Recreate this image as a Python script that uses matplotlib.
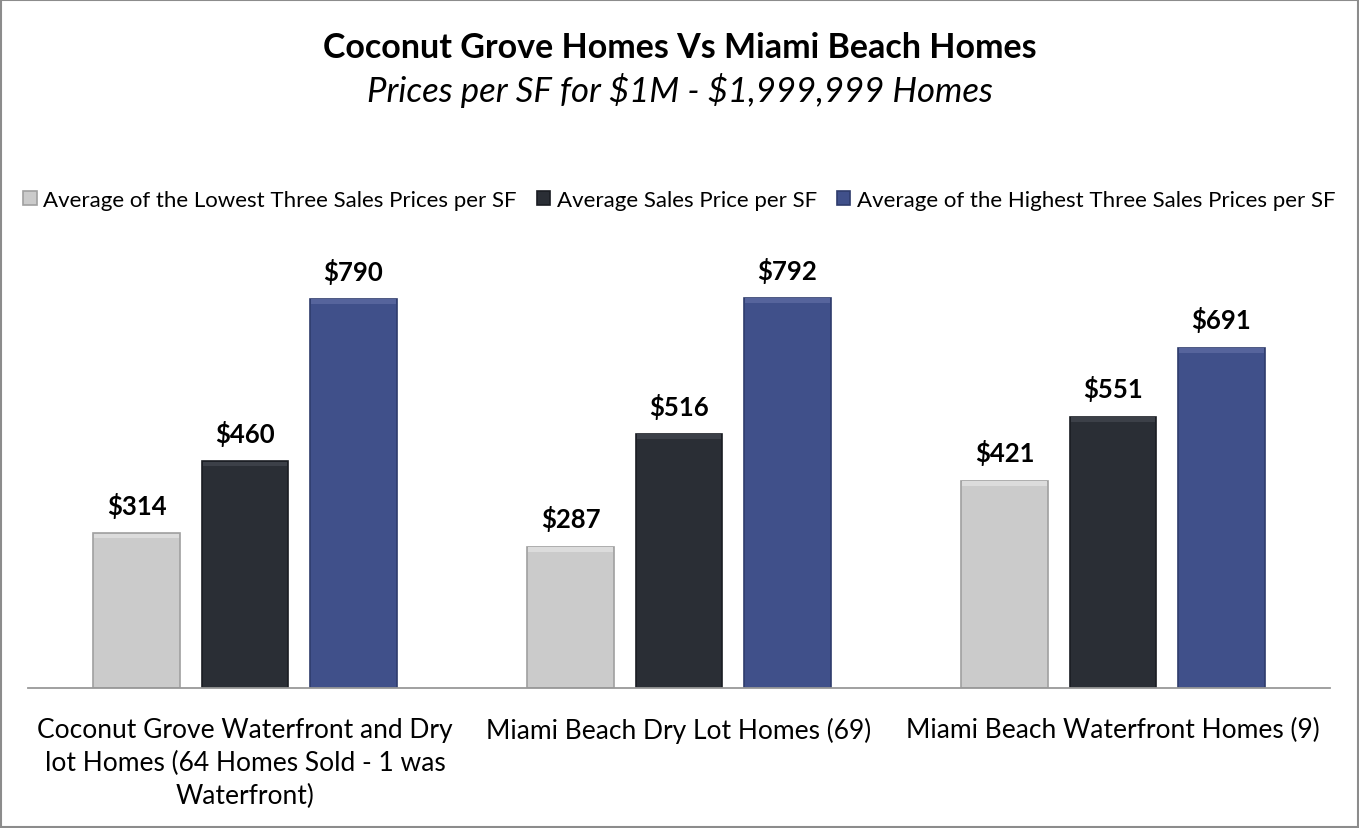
import numpy as np
import matplotlib.pyplot as plt
from matplotlib.patches import Rectangle

plt.rcParams['font.family'] = ['Lato', 'DejaVu Sans']

categories = ['Coconut Grove Waterfront and Dry\nlot Homes (64 Homes Sold - 1 was\nWaterfront)',
              'Miami Beach Dry Lot Homes (69)',
              'Miami Beach Waterfront Homes (9)']
series_names = ['Average of the Lowest Three Sales Prices per SF',
                'Average Sales Price per SF',
                'Average of the Highest Three Sales Prices per SF']
lowest = [314, 287, 421]
average = [460, 516, 551]
highest = [790, 792, 691]

colors = ['#cbcbcb', '#2a2e35', '#40508a']
edges = ['#a0a0a0', '#1a1d22', '#2f3c6c']
tops = ['#dcdcdc', '#3c4048', '#56649c']

fig = plt.figure(figsize=(13.59, 8.29), dpi=100)
fig.patches.append(Rectangle((0.001, 0.001), 0.998, 0.998, transform=fig.transFigure,
                             fill=False, edgecolor='#8c8c8c', linewidth=1.5))

ax = fig.add_axes([28/1359, 140/829, 1302/1359, 439/829])
x = np.arange(len(categories))
width = 0.2
step = 0.25

for i, (vals, name) in enumerate(zip([lowest, average, highest], series_names)):
    pos = x + (i - 1) * step
    ax.bar(pos, vals, width, color=colors[i], edgecolor=edges[i], linewidth=1.2,
           label=name, zorder=2)
    # bevel highlight along the top of each bar
    ax.bar(pos, [9] * len(vals), width * 0.97, bottom=np.array(vals) - 10,
           color=tops[i], linewidth=0, zorder=3)
    for p, v in zip(pos, vals):
        ax.annotate('\\${}'.format(v), (p, v), xytext=(0, 11), textcoords='offset points',
                    ha='center', va='bottom', fontsize=18.5, fontweight='bold')

ax.set_xlim(-0.5, 2.5)
ax.set_ylim(0, 891.5)
ax.set_yticks([])
ax.set_xticks(x)
ax.set_xticklabels(categories, fontsize=19, linespacing=1.38)
ax.tick_params(axis='x', length=0, pad=21)
for s in ['top', 'left', 'right']:
    ax.spines[s].set_visible(False)
ax.spines['bottom'].set_color('#999999')
ax.spines['bottom'].set_linewidth(1.3)

fig.text(0.5, 1 - 48/829, 'Coconut Grove Homes Vs Miami Beach Homes', ha='center', va='center',
         fontsize=24.5, fontweight='bold')
fig.text(0.5, 1 - 90/829, 'Prices per SF for \\$1M - \\$1,999,999 Homes', ha='center', va='center',
         fontsize=25, fontstyle='italic')

handles, labels = ax.get_legend_handles_labels()
fig.legend(handles[:3], labels[:3], loc='center', bbox_to_anchor=(0.5, 1 - 201/829), ncol=3,
           frameon=False, fontsize=16, handlelength=0.6, handleheight=0.6,
           handletextpad=0.3, columnspacing=0.9)

fig.savefig('out.png', dpi=100)
